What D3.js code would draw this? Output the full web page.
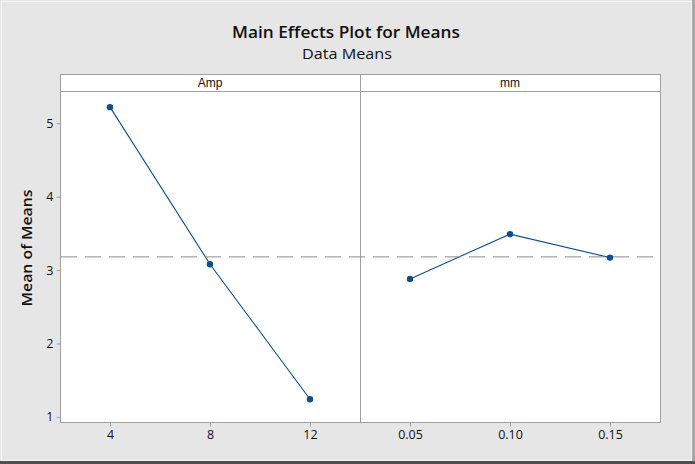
<!DOCTYPE html>
<html>
<head>
<meta charset="utf-8">
<script src="https://cdn.jsdelivr.net/npm/d3@7"></script>
<style>
  html, body { margin: 0; padding: 0; background: #e6e6e6; }
  svg { display: block; }
</style>
</head>
<body>
<svg id="chart" width="695" height="464"></svg>
<script>
// ---- data ----
const title = "Main Effects Plot for Means";
const subtitle = "Data Means";
const yLabel = "Mean of Means";
const factors = ["Amp", "mm"];
const ampLevels = ["4", "8", "12"];
const ampMeans = [5.22, 3.08, 1.24];
const mmLevels = ["0.05", "0.10", "0.15"];
const mmMeans = [2.88, 3.49, 3.17];
const yTicks = [1, 2, 3, 4, 5];
const grandMean = 3.18;

const panelsData = [
  { name: factors[0], levels: ampLevels, means: ampMeans },
  { name: factors[1], levels: mmLevels, means: mmMeans }
];

const W = 695, H = 464;
const svg = d3.select("#chart");
const gray = "#a0a0a0";
const blue = "#0d4e8e";
const font = "'Open Sans', 'Noto Sans', sans-serif";

// background and frame
svg.append("rect").attr("x", 0).attr("y", 0).attr("width", W).attr("height", H).attr("fill", "#e6e6e6");
svg.append("rect").attr("x", 1.5).attr("y", 1.5).attr("width", W - 5).attr("height", H - 5)
  .attr("fill", "none").attr("stroke", "#f4f4f4").attr("stroke-width", 1);
svg.append("line").attr("x1", W - 1.5).attr("x2", W - 1.5).attr("y1", 0).attr("y2", H).attr("stroke", "#a8a8a8").attr("stroke-width", 3);
svg.append("line").attr("x1", 0).attr("x2", W).attr("y1", H - 1.5).attr("y2", H - 1.5).attr("stroke", "#505050").attr("stroke-width", 3);

// layout
const pLeft = 60, pRight = 660, pTop = 91, pBottom = 422, stripTop = 74;
const panelW = (pRight - pLeft) / panelsData.length;

const y = d3.scaleLinear().domain([0.93, 5.44]).range([pBottom, pTop]);

// titles
svg.append("text").attr("x", 346).attr("y", 38).attr("text-anchor", "middle")
  .attr("font-family", font).attr("font-weight", 600).attr("font-size", 17).attr("fill", "#111")
  .attr("textLength", 228).attr("lengthAdjust", "spacingAndGlyphs")
  .text(title);
svg.append("text").attr("x", 347).attr("y", 59).attr("text-anchor", "middle")
  .attr("font-family", font).attr("font-size", 14.5).attr("fill", "#111")
  .attr("textLength", 90).attr("lengthAdjust", "spacingAndGlyphs")
  .text(subtitle);

// y label
svg.append("text").attr("transform", `translate(32,248) rotate(-90)`).attr("text-anchor", "middle")
  .attr("font-family", font).attr("font-weight", 600).attr("font-size", 14.5).attr("fill", "#111")
  .attr("textLength", 117).attr("lengthAdjust", "spacingAndGlyphs")
  .text(yLabel);

panelsData.forEach((p, i) => {
  const x0 = pLeft + i * panelW, x1 = x0 + panelW;
  const x = d3.scalePoint().domain(p.levels).range([x0, x1]).padding(0.5);
  const g = svg.append("g");

  // strip
  g.append("rect").attr("x", x0 + 0.5).attr("y", stripTop + 0.5).attr("width", panelW).attr("height", pTop - stripTop)
    .attr("fill", "#fff").attr("stroke", gray);
  g.append("text").attr("x", (x0 + x1) / 2).attr("y", stripTop + 12.5).attr("text-anchor", "middle")
    .attr("font-family", "'Liberation Sans', Arial, sans-serif").attr("font-size", 12).attr("fill", "#111")
    .text(p.name);

  // panel
  g.append("rect").attr("x", x0 + 0.5).attr("y", pTop + 0.5).attr("width", panelW).attr("height", pBottom - pTop)
    .attr("fill", "#fff").attr("stroke", gray);

  // x axis
  const xa = g.append("g").attr("transform", `translate(0,${pBottom + 0.5})`)
    .call(d3.axisBottom(x).tickSize(4).tickPadding(4));
  xa.select(".domain").remove();
  xa.selectAll(".tick line").attr("stroke", gray);
  xa.selectAll(".tick text").attr("font-family", font).attr("font-size", 12.5).attr("fill", "#111");

  // y axis on first panel
  if (i === 0) {
    const ya = g.append("g").attr("transform", `translate(${x0 + 0.5},0)`)
      .call(d3.axisLeft(y).tickValues(yTicks).tickFormat(d3.format("d")).tickSize(4).tickPadding(3));
    ya.select(".domain").remove();
    ya.selectAll(".tick line").attr("stroke", gray);
    ya.selectAll(".tick text").attr("font-family", font).attr("font-size", 12.5).attr("fill", "#111");
  }

  // line and points
  const pts = p.levels.map((l, k) => ({ l, v: p.means[k] }));
  g.append("path").datum(pts)
    .attr("d", d3.line().x(d => x(d.l)).y(d => y(d.v)))
    .attr("fill", "none").attr("stroke", blue).attr("stroke-width", 1.1);
  g.selectAll("circle").data(pts).join("circle")
    .attr("cx", d => x(d.l)).attr("cy", d => y(d.v)).attr("r", 3.2)
    .attr("fill", blue);
});

// grand mean reference line
svg.append("line").attr("x1", pLeft + 1).attr("x2", pRight).attr("y1", y(grandMean)).attr("y2", y(grandMean))
  .attr("stroke", "#8c8c8c").attr("stroke-width", 1).attr("stroke-dasharray", "16,8");
</script>
</body>
</html>
